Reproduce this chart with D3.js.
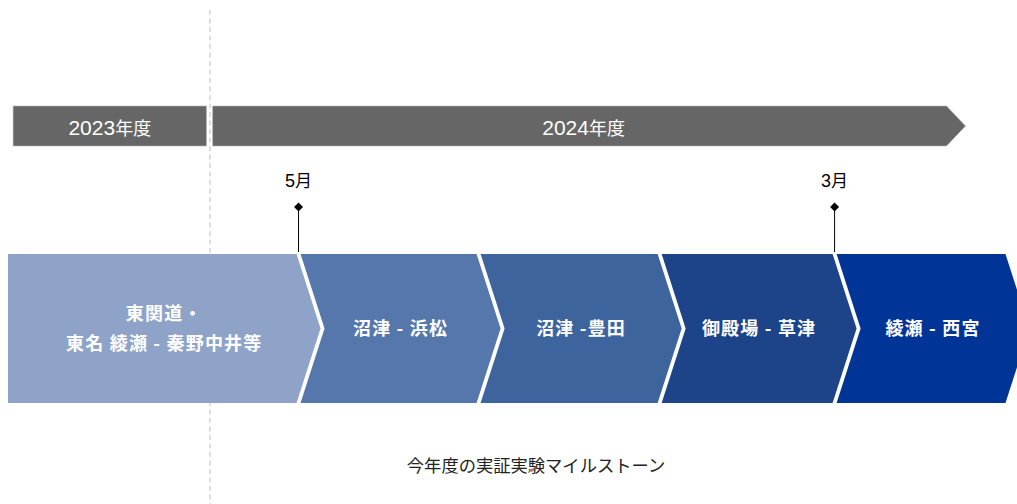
<!DOCTYPE html>
<html>
<head>
<meta charset="utf-8">
<script src="https://cdn.jsdelivr.net/npm/d3@7"></script>
<style>
  html, body { margin: 0; padding: 0; background: #ffffff; overflow: hidden; }
  #chart { width: 1017px; height: 504px; }
</style>
</head>
<body>
<div id="chart"></div>
<script>
const fiscalLabels = ['2023年度', '2024年度'];
const fiscalStart = [0.5, 20.0];
const fiscalEnd = [19.4, 93.6];
const fiscalArrow = [false, true];
const fiscalBoundary = 19.75;

const phaseLabels = [
  ['東関道・', '東名 綾瀬 - 秦野中井等'],
  ['沼津 - 浜松'],
  ['沼津 -豊田'],
  ['御殿場 - 草津'],
  ['綾瀬 - 西宮']
];
const phaseBounds = [0, 28.4, 46.0, 63.7, 80.8, 97.7];
const phaseColors = ['#8ea3c7', '#5677ac', '#3e649e', '#1d4389', '#003497'];

const milestoneLabels = ['5月', '3月'];
const milestoneAt = [28.4, 80.8];

const caption = '今年度の実証実験マイルストーン';

const W = 1017, H = 504;
const FONT = '"Liberation Sans", Arial, "Noto Sans CJK JP", sans-serif';
const CJK = '"Noto Sans CJK JP", "Liberation Sans", sans-serif';

const x = d3.scaleLinear().domain([0, 100]).range([8, 1031]);

const svg = d3.select('#chart').append('svg')
  .attr('width', W).attr('height', H)
  .attr('viewBox', `0 0 ${W} ${H}`)
  .style('display', 'block');

// Fiscal year boundary (dashed)
svg.append('line')
  .attr('x1', x(fiscalBoundary)).attr('x2', x(fiscalBoundary))
  .attr('y1', 10).attr('y2', H)
  .attr('stroke', '#dcdce6')
  .attr('stroke-width', 2)
  .attr('stroke-dasharray', '5,3.5');

// Fiscal year bars
const barTop = 106, barBot = 146, barMid = (barTop + barBot) / 2;
const barTip = 19;
fiscalLabels.forEach((label, i) => {
  const x0 = x(fiscalStart[i]);
  const x1 = x(fiscalEnd[i]);
  const pts = fiscalArrow[i]
    ? [[x0, barTop], [x1 - barTip, barTop], [x1, barMid], [x1 - barTip, barBot], [x0, barBot]]
    : [[x0, barTop], [x1, barTop], [x1, barBot], [x0, barBot]];
  svg.append('path')
    .attr('d', 'M' + pts.map(p => p.join(',')).join('L') + 'Z')
    .attr('fill', '#666666')
    .attr('stroke', '#b5b5b5')
    .attr('stroke-width', 0.6);

  const cx = fiscalArrow[i] ? (x0 + x1 - barTip) / 2 + 4 : (x0 + x1) / 2;
  const t = svg.append('text')
    .attr('x', cx).attr('y', barMid + 9)
    .attr('text-anchor', 'middle')
    .attr('fill', '#ffffff')
    .attr('font-family', FONT);
  const m = label.match(/^(\d+)(.*)$/);
  t.append('tspan').attr('font-size', '21px').text(m[1]);
  t.append('tspan').attr('font-size', '18px').attr('font-family', CJK).text(m[2]);
});

// Phase chevrons
const segTop = 254, segBot = 403, segMid = (segTop + segBot) / 2;
const depth = 24, gap = 4;
phaseLabels.forEach((lines, i) => {
  const left = x(phaseBounds[i]) + (i > 0 ? gap / 2 : 0);
  const right = x(phaseBounds[i + 1]) - gap / 2;
  const pts = [[left, segTop], [right, segTop], [right + depth, segMid], [right, segBot], [left, segBot]];
  if (i > 0) pts.push([left + depth, segMid]);
  svg.append('path')
    .attr('d', 'M' + pts.map(p => p.join(',')).join('L') + 'Z')
    .attr('fill', phaseColors[i]);

  const cx = (left + right) / 2 + depth / 2;
  const lineH = 30;
  lines.forEach((line, li) => {
    svg.append('text')
      .attr('x', cx)
      .attr('y', segMid - (lines.length - 1) * lineH / 2 + li * lineH)
      .attr('dy', '0.35em')
      .attr('text-anchor', 'middle')
      .attr('fill', '#ffffff')
      .attr('font-family', CJK)
      .attr('font-weight', 'bold')
      .attr('font-size', '18px')
      .attr('letter-spacing', '1.2px')
      .style('white-space', 'pre')
      .text(line);
  });
});

// Milestones
const diamond = d3.symbol().type(d3.symbolSquare).size(40);
milestoneLabels.forEach((label, i) => {
  const mx = x(milestoneAt[i]);
  svg.append('line')
    .attr('x1', mx).attr('x2', mx)
    .attr('y1', 207).attr('y2', segTop - 2)
    .attr('stroke', '#000000')
    .attr('stroke-width', 1);
  svg.append('path')
    .attr('d', diamond())
    .attr('transform', `translate(${mx},207) rotate(45)`)
    .attr('fill', '#000000');
  const t = svg.append('text')
    .attr('x', mx).attr('y', 187)
    .attr('text-anchor', 'middle')
    .attr('fill', '#000000')
    .attr('font-family', FONT);
  t.append('tspan').attr('font-size', '18px').text(label.slice(0, -1));
  t.append('tspan').attr('font-size', '17px').attr('font-family', CJK).text(label.slice(-1));
});

// Caption
svg.append('text')
  .attr('x', 536).attr('y', 466)
  .attr('dy', '0.35em')
  .attr('text-anchor', 'middle')
  .attr('fill', '#222222')
  .attr('font-family', CJK)
  .attr('font-size', '17.3px')
  .text(caption);
</script>
</body>
</html>
